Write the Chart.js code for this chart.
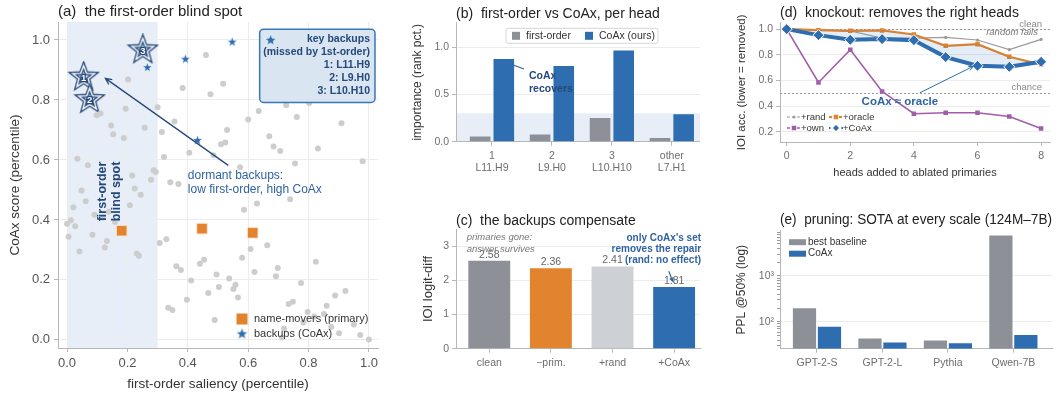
<!DOCTYPE html>
<html lang="en">
<head>
<meta charset="utf-8">
<title>CoAx backups</title>
<script src="https://cdn.jsdelivr.net/npm/chart.js@4/dist/chart.umd.min.js"></script>
<style>
  html, body { margin: 0; padding: 0; background: #fff; }
  body { position: relative; width: 1058px; height: 396px; overflow: hidden; }
  canvas { position: absolute; }
</style>
</head>
<body>
<canvas id="chartA" width="392" height="396" style="left:0;top:0"></canvas>
<canvas id="chartB" width="300" height="190" style="left:400px;top:0"></canvas>
<canvas id="chartC" width="310" height="198" style="left:400px;top:198px"></canvas>
<canvas id="chartD" width="358" height="190" style="left:700px;top:0"></canvas>
<canvas id="chartE" width="358" height="198" style="left:700px;top:198px"></canvas>
<script>
// ---- (a) every head: first-order saliency vs CoAx score (percentiles)
const headX = [0.46, 0.202, 0.383, 0.517, 0.475, 0.30, 0.194, 0.098, 0.111, 0.356,
  0.146, 0.257, 0.53, 0.153, 0.314, 0.188, 0.524, 0.51, 0.405, 0.321,
  0.034, 0.069, 0.573, 0.287, 0.294, 0.216, 0.278, 0.342, 0.369, 0.048,
  0.224, 0.244, 0.60, 0.635, 0.726, 0.802, 0.761, 0.909, 0.67, 0.684,
  0.706, 0.831, 0.755, 0.979, 0.739, 0.062, 0.021, 0.208, 0.138, 0.091,
  0.118, 0.159, 0.013, 0.0, 0.027, 0.005, 0.084, 0.132, 0.125, 0.041,
  0.231, 0.238, 0.307, 0.329, 0.586, 0.629, 0.608, 0.663, 0.58, 0.454,
  0.44, 0.362, 0.377, 0.698, 0.621, 0.824, 0.495, 0.537, 0.692, 0.411,
  0.503, 0.558, 0.551, 0.775, 0.468, 0.566, 0.397, 0.922, 0.888, 0.748,
  0.734, 0.86, 0.335, 0.349, 0.797, 0.851, 0.819, 0.783, 0.489, 0.875,
  0.95, 0.719, 0.901, 0.712, 0.971, 1.0, 0.485]
const headY = [0.95, 0.868, 0.84, 0.854, 0.819, 0.776, 0.771, 0.749, 0.755, 0.728,
  0.715, 0.707, 0.70, 0.686, 0.693, 0.673, 0.658, 0.652, 0.624, 0.61,
  0.604, 0.582, 0.576, 0.566, 0.56, 0.548, 0.534, 0.526, 0.52, 0.498,
  0.505, 0.484, 0.735, 0.763, 0.782, 0.79, 0.743, 0.722, 0.679, 0.645,
  0.63, 0.638, 0.588, 0.596, 0.469, 0.462, 0.442, 0.449, 0.427, 0.417,
  0.407, 0.393, 0.399, 0.387, 0.379, 0.344, 0.351, 0.33, 0.308, 0.295,
  0.288, 0.281, 0.323, 0.336, 0.434, 0.455, 0.303, 0.316, 0.274, 0.267,
  0.254, 0.246, 0.233, 0.24, 0.226, 0.261, 0.218, 0.205, 0.212, 0.198,
  0.176, 0.184, 0.17, 0.19, 0.156, 0.141, 0.134, 0.163, 0.148, 0.127,
  0.12, 0.114, 0.107, 0.10, 0.093, 0.086, 0.078, 0.058, 0.066, 0.043,
  0.051, 0.037, 0.022, 0.008, 0.016, 0.001, 0.616]
const primaryX = [0.181, 0.447, 0.615]
const primaryY = [0.364, 0.371, 0.357]
const backupX = [0.266, 0.392, 0.547, 0.432]
const backupY = [0.908, 0.936, 0.993, 0.665]
const keyIds = ['1', '2', '3']
const keyNames = ['L11.H9', 'L9.H0', 'L10.H10']
const keyX = [0.055, 0.075, 0.251]
const keyY = [0.876, 0.801, 0.967]
const blindSpot = [0, 0.3]
const unitTicks = [0, 0.2, 0.4, 0.6, 0.8, 1.0]

// ---- (b) rank percentile per head
const headIds = ['1', '2', '3', 'other']
const headNames = ['L11.H9', 'L9.H0', 'L10.H10', 'L7.H1']
const firstOrderRank = [0.055, 0.075, 0.251, 0.04]
const coaxRank = [0.876, 0.801, 0.967, 0.29]
const rankTicks = [0, 0.5, 1.0]

// ---- (c) IOI logit-diff after ablation
const compLabels = ['clean', '\u2212prim.', '+rand', '+CoAx']
const compValues = [2.58, 2.36, 2.41, 1.81]
const logitTicks = [0, 1, 2, 3]

// ---- (d) knockout curves
const knockSteps = [0, 1, 2, 3, 4, 5, 6, 7, 8]
const randAcc = [1.0, 0.995, 0.985, 0.93, 0.93, 0.935, 0.915, 0.84, 0.92]
const oracleAcc = [1.0, 0.992, 0.987, 0.99, 0.958, 0.87, 0.883, 0.784, 0.724]
const ownAcc = [1.0, 0.584, 0.839, 0.514, 0.34, 0.348, 0.348, 0.319, 0.225]
const coaxAcc = [1.0, 0.953, 0.917, 0.922, 0.914, 0.782, 0.714, 0.706, 0.745]
const stepTicks = [0, 2, 4, 6, 8]
const accTicks = [0.2, 0.4, 0.6, 0.8, 1.0]

// ---- (e) perplexity at 50% pruning
const pruneModels = ['GPT-2-S', 'GPT-2-L', 'Pythia', 'Qwen-7B']
const baselinePpl = [198, 43.5, 39, 7670]
const coaxPpl = [78, 35.5, 34, 52]
const pplTicks = [30, 40, 50, 60, 70, 80, 90, 100, 200, 300, 400, 500, 600, 700, 800, 900,
  1000, 2000, 3000, 4000, 5000, 6000, 7000, 8000, 9000]
const pplLabels = { 100: '10\u00b2', 1000: '10\u00b3' }

const FONT = "'Liberation Sans', Arial, Helvetica, sans-serif"
const BLUE = '#2e6db0'
const NAVY = '#26497a'
const TEXTBLUE = '#2f63a3'
const ORANGE = '#e2832d'
const GRAY = '#8d9197'
const LIGHTGRAY = '#cdd1d5'
const PURPLE = '#a15daa'
const BAND = '#e7eef7'
const GRID = '#ececec'
const SPINE = '#b4b8be'
const TICK = '#6e6e6e'

Chart.defaults.font.family = FONT
Chart.defaults.animation = false
Chart.defaults.plugins.legend.display = false
Chart.defaults.plugins.tooltip.enabled = false

const pts = (xs, ys) => xs.map((x, i) => ({ x, y: ys[i] }))

function makeAxis(o) {
  return {
    type: o.type || 'linear',
    min: o.min,
    max: o.max,
    offset: false,
    afterBuildTicks: (s) => { s.ticks = o.ticks.map((v) => ({ value: v })) },
    afterFit: (s) => {
      if (o.width != null) s.width = o.width
      if (o.height != null) s.height = o.height
    },
    ticks: {
      callback: o.fmt,
      font: { size: o.size || 10.5 },
      color: o.color || TICK,
      padding: o.pad != null ? o.pad : 3,
      autoSkip: false,
      maxRotation: 0,
    },
    grid: {
      offset: false,
      drawOnChartArea: o.grid !== false,
      color: o.gridColor || GRID,
      tickColor: SPINE,
      tickLength: o.tickLen != null ? o.tickLen : 4,
    },
    border: { color: SPINE },
    title: o.title
      ? { display: true, text: o.title, color: '#333', font: { size: o.titleSize || 12 }, padding: o.titlePad }
      : { display: false },
  }
}

function panelTitle(text, size, top, bottom) {
  return { display: true, text, align: 'start', fullSize: false, color: '#222', font: { size, weight: 'normal' }, padding: { top, bottom } }
}

function label(ctx, str, x, y, o = {}) {
  ctx.save()
  ctx.font = (o.italic ? 'italic ' : '') + (o.bold ? 'bold ' : '') + (o.size || 11) + 'px ' + FONT
  ctx.fillStyle = o.color || '#333'
  ctx.textAlign = o.align || 'left'
  ctx.textBaseline = 'middle'
  if (o.rotate) { ctx.translate(x, y); ctx.rotate(o.rotate); x = 0; y = 0 }
  ctx.fillText(str, x, y)
  ctx.restore()
}

function arrow(ctx, x1, y1, x2, y2, color, lw, head) {
  const a = Math.atan2(y2 - y1, x2 - x1)
  ctx.save()
  ctx.strokeStyle = color
  ctx.lineWidth = lw
  ctx.beginPath()
  ctx.moveTo(x1, y1)
  ctx.lineTo(x2, y2)
  ctx.moveTo(x2 - head * Math.cos(a - 0.45), y2 - head * Math.sin(a - 0.45))
  ctx.lineTo(x2, y2)
  ctx.lineTo(x2 - head * Math.cos(a + 0.45), y2 - head * Math.sin(a + 0.45))
  ctx.stroke()
  ctx.restore()
}

function starPath(g, cx, cy, r) {
  g.beginPath()
  for (let k = 0; k < 10; k++) {
    const a = -Math.PI / 2 + (k * Math.PI) / 5
    const rr = k % 2 ? r * 0.42 : r
    g.lineTo(cx + rr * Math.cos(a), cy + rr * Math.sin(a))
  }
  g.closePath()
}

// filled blue star used for the backup heads
function smallStar(r) {
  const s = Math.ceil(2 * r + 4)
  const c = document.createElement('canvas')
  c.width = c.height = s
  const g = c.getContext('2d')
  starPath(g, s / 2, s / 2, r)
  g.fillStyle = BLUE
  g.fill()
  g.strokeStyle = '#fff'
  g.lineWidth = 0.8
  g.stroke()
  return c
}

// outlined star for the three key backups
function keyStar(r) {
  const s = Math.ceil(2 * r + 10)
  const c = document.createElement('canvas')
  c.width = c.height = s
  const g = c.getContext('2d')
  g.lineJoin = 'miter'
  g.miterLimit = 10
  starPath(g, s / 2, s / 2, r)
  g.fillStyle = '#d9e4f1'
  g.fill()
  g.strokeStyle = NAVY
  g.lineWidth = 4
  g.stroke()
  g.strokeStyle = '#fff'
  g.lineWidth = 1.4
  g.stroke()
  return c
}

const starSmall = smallStar(5.5)
const starLegend = smallStar(6.5)
const starKey = keyStar(11.5)

// ---------------- (a) ----------------
const panelA = {
  id: 'panelA',
  beforeDraw(chart) {
    const { ctx, chartArea: a, scales: { x } } = chart
    const x0 = x.getPixelForValue(blindSpot[0])
    const x1 = x.getPixelForValue(blindSpot[1])
    ctx.save()
    ctx.fillStyle = BAND
    ctx.fillRect(x0, a.top, x1 - x0, a.bottom - a.top)
    ctx.restore()
  },
  afterDatasetsDraw(chart) {
    const { ctx, chartArea: a, scales: { x, y } } = chart
    const px = (v) => x.getPixelForValue(v)
    const py = (v) => y.getPixelForValue(v)

    // numbers inside the key stars
    chart.getDatasetMeta(3).data.forEach((el, i) => {
      ctx.save()
      ctx.font = 'bold 9.5px ' + FONT
      ctx.textAlign = 'center'
      ctx.textBaseline = 'middle'
      ctx.strokeStyle = NAVY
      ctx.lineWidth = 2.5
      ctx.strokeText(keyIds[i], el.x, el.y + 1)
      ctx.fillStyle = '#fff'
      ctx.fillText(keyIds[i], el.x, el.y + 1)
      ctx.restore()
    })

    arrow(ctx, px(0.534), py(0.582), px(0.127), py(0.872), NAVY, 1.3, 7)
    label(ctx, 'dormant backups:', px(0.40), py(0.549), { size: 12, color: TEXTBLUE })
    label(ctx, 'low first-order, high CoAx', px(0.40), py(0.50), { size: 12, color: TEXTBLUE })

    const cx = px(0.14), cy = py(0.495)
    label(ctx, 'first-order', cx - 7, cy, { size: 12.5, bold: true, color: NAVY, align: 'center', rotate: -Math.PI / 2 })
    label(ctx, 'blind spot', cx + 7, cy, { size: 12.5, bold: true, color: NAVY, align: 'center', rotate: -Math.PI / 2 })

    // key backups box
    const bl = px(0.638), br = px(1.02), bt = py(1.036), bb = py(0.792)
    ctx.save()
    ctx.beginPath()
    ctx.roundRect(bl, bt, br - bl, bb - bt, 4)
    ctx.fillStyle = '#dae5f2'
    ctx.fill()
    ctx.strokeStyle = '#3b76b9'
    ctx.lineWidth = 1.5
    ctx.stroke()
    ctx.restore()
    Chart.helpers.drawPoint(ctx, { pointStyle: starLegend, radius: 6 }, bl + 11, bt + 11)
    const boxLines = ['key backups', '(missed by 1st-order)'].concat(keyIds.map((k, i) => k + ': ' + keyNames[i]))
    boxLines.forEach((t, i) => label(ctx, t, br - 5, bt + 9.5 + i * 13.2, { size: 10.5, bold: true, color: NAVY, align: 'right' }))

    // legend
    const lx = a.right - 136
    ctx.save()
    ctx.fillStyle = ORANGE
    ctx.fillRect(lx - 5.5, a.bottom - 34.5, 11, 11)
    ctx.restore()
    Chart.helpers.drawPoint(ctx, { pointStyle: starLegend, radius: 6 }, lx, a.bottom - 14)
    label(ctx, 'name-movers (primary)', lx + 12, a.bottom - 29, { size: 11, color: '#333' })
    label(ctx, 'backups (CoAx)', lx + 12, a.bottom - 14, { size: 11, color: '#333' })
  },
}

new Chart(document.getElementById('chartA'), {
  type: 'scatter',
  data: {
    datasets: [
      { data: pts(headX, headY), pointRadius: 3, backgroundColor: '#cdcdcd', borderWidth: 0 },
      { data: pts(primaryX, primaryY), pointStyle: 'rect', pointRadius: 7.4, backgroundColor: ORANGE, borderColor: '#fbe3cc', borderWidth: 0.8 },
      { data: pts(backupX, backupY), pointStyle: starSmall, pointRadius: 6 },
      { data: pts(keyX, keyY), pointStyle: starKey, pointRadius: 13 },
    ],
  },
  options: {
    responsive: false,
    layout: { padding: { left: 0, right: 9, top: 0, bottom: 0 } },
    plugins: { title: panelTitle('(a)  the first-order blind spot', 15, 2.7, 1.3) },
    scales: {
      x: makeAxis({ min: -0.03, max: 1.03, ticks: unitTicks, fmt: (v) => v.toFixed(1), size: 13, color: '#555', pad: 4, height: 48,
        title: 'first-order saliency (percentile)', titleSize: 13.5, titlePad: { top: 0, bottom: 4 } }),
      y: makeAxis({ min: -0.027, max: 1.06, ticks: unitTicks, fmt: (v) => v.toFixed(1), size: 13, color: '#555', pad: 4, width: 58,
        title: 'CoAx score (percentile)', titleSize: 13.5, titlePad: { top: 7, bottom: 0 } }),
    },
  },
  plugins: [panelA],
})

// ---------------- (b) ----------------
const panelB = {
  id: 'panelB',
  beforeDraw(chart) {
    const { ctx, chartArea: a, scales: { y } } = chart
    ctx.save()
    ctx.fillStyle = BAND
    ctx.fillRect(a.left, y.getPixelForValue(0.3), a.right - a.left, y.getPixelForValue(0) - y.getPixelForValue(0.3))
    ctx.restore()
  },
  afterDatasetsDraw(chart) {
    const { ctx, chartArea: a, scales: { x, y } } = chart
    // legend box
    ctx.save()
    ctx.beginPath()
    ctx.roundRect(a.left + 50, a.top + 5.5, 152, 15, 2)
    ctx.fillStyle = 'rgba(255,255,255,0.9)'
    ctx.fill()
    ctx.strokeStyle = '#d6d6d6'
    ctx.lineWidth = 1
    ctx.stroke()
    ctx.fillStyle = GRAY
    ctx.fillRect(a.left + 56, a.top + 9, 8, 8)
    ctx.fillStyle = BLUE
    ctx.fillRect(a.left + 129, a.top + 9, 8, 8)
    ctx.restore()
    label(ctx, 'first-order', a.left + 70, a.top + 13, { size: 10.5, color: '#333' })
    label(ctx, 'CoAx (ours)', a.left + 143, a.top + 13, { size: 10.5, color: '#333' })

    ctx.save()
    ctx.strokeStyle = TEXTBLUE
    ctx.lineWidth = 1.2
    ctx.beginPath()
    ctx.moveTo(x.getPixelForValue(0.367), y.getPixelForValue(0.81))
    ctx.lineTo(x.getPixelForValue(0.534), y.getPixelForValue(0.77))
    ctx.stroke()
    ctx.restore()
    label(ctx, 'CoAx', x.getPixelForValue(0.618), y.getPixelForValue(0.69), { size: 10.5, bold: true, color: NAVY })
    label(ctx, 'recovers', x.getPixelForValue(0.618), y.getPixelForValue(0.56), { size: 10.5, bold: true, color: NAVY })
  },
}

new Chart(document.getElementById('chartB'), {
  type: 'bar',
  data: {
    datasets: [
      { data: pts([0, 1, 2, 3], firstOrderRank), backgroundColor: GRAY, categoryPercentage: 0.79, barPercentage: 0.87 },
      { data: pts([0, 1, 2, 3], coaxRank), backgroundColor: BLUE, categoryPercentage: 0.79, barPercentage: 0.87 },
    ],
  },
  options: {
    responsive: false,
    layout: { padding: { left: 0, right: 0, top: 0, bottom: 0 } },
    plugins: { title: panelTitle('(b)  first-order vs CoAx, per head', 14, 5.5, 0.5) },
    scales: {
      x: makeAxis({ min: -0.6, max: 3.47, ticks: [0, 1, 2, 3], fmt: (v) => [headIds[v], headNames[v]], grid: false, pad: 4, height: 48.3 }),
      y: makeAxis({ min: 0, max: 1.26, ticks: rankTicks, fmt: (v) => v.toFixed(1), width: 56,
        title: 'importance (rank pct.)', titleSize: 12, titlePad: { top: 10.8, bottom: 0 } }),
    },
  },
  plugins: [panelB],
})

// ---------------- (c) ----------------
const panelC = {
  id: 'panelC',
  afterDatasetsDraw(chart) {
    const { ctx, scales: { x, y } } = chart
    chart.getDatasetMeta(0).data.forEach((bar, i) => {
      label(ctx, compValues[i].toFixed(2), bar.x, bar.y - 6, { size: 10.5, color: '#666', align: 'center' })
    })
    label(ctx, 'primaries gone:', x.getPixelForValue(-0.366), y.getPixelForValue(3.25), { size: 9.5, italic: true, color: '#777' })
    label(ctx, 'answer survives', x.getPixelForValue(-0.366), y.getPixelForValue(2.92), { size: 9.5, italic: true, color: '#777' })
    const note = ["only CoAx's set", 'removes the repair', '(rand: no effect)']
    note.forEach((t, i) => label(ctx, t, x.getPixelForValue(3.437), y.getPixelForValue(3.25 - i * 0.322), { size: 10, bold: true, color: TEXTBLUE, align: 'right' }))
    arrow(ctx, x.getPixelForValue(2.913), y.getPixelForValue(2.27), x.getPixelForValue(2.978), y.getPixelForValue(1.98), TEXTBLUE, 1.2, 4)
  },
}

new Chart(document.getElementById('chartC'), {
  type: 'bar',
  data: {
    datasets: [
      { data: pts([0, 1, 2, 3], compValues), backgroundColor: [GRAY, ORANGE, LIGHTGRAY, BLUE], categoryPercentage: 1, barPercentage: 0.68 },
    ],
  },
  options: {
    responsive: false,
    layout: { padding: { left: 0, right: 10, top: 0, bottom: 0 } },
    plugins: { title: panelTitle('(c)  the backups compensate', 14, 14.3, 0.2) },
    scales: {
      x: makeAxis({ min: -0.54, max: 3.42, ticks: [0, 1, 2, 3], fmt: (v) => compLabels[v], grid: false, pad: 4, height: 47.3 }),
      y: makeAxis({ min: 0, max: 3.5, ticks: logitTicks, fmt: (v) => String(v), width: 56,
        title: 'IOI logit-diff', titleSize: 13, titlePad: { top: 20.5, bottom: 0 } }),
    },
  },
  plugins: [panelC],
})

// ---------------- (d) ----------------
const knockStyles = [
  { text: '+rand', color: '#9b9b9b', lw: 1.2, point: 'circle', r: 1.6 },
  { text: '+oracle', color: ORANGE, lw: 2.2, point: 'rect', r: 3.2 },
  { text: '+own', color: PURPLE, lw: 1.6, point: 'rect', r: 3.2 },
  { text: '+CoAx', color: BLUE, lw: 3, point: 'rectRot', r: 4.5 },
]

const panelD = {
  id: 'panelD',
  beforeDatasetsDraw(chart) {
    const { ctx, chartArea: a, scales: { y } } = chart
    ctx.save()
    ctx.strokeStyle = '#9a9a9a'
    ctx.lineWidth = 1
    ctx.setLineDash([2, 2])
    ;[1.0, 0.5].forEach((v) => {
      const yy = Math.round(y.getPixelForValue(v)) + 0.5
      ctx.beginPath()
      ctx.moveTo(a.left, yy)
      ctx.lineTo(a.right, yy)
      ctx.stroke()
    })
    ctx.restore()
  },
  afterDatasetsDraw(chart) {
    const { ctx, chartArea: a, scales: { x, y } } = chart
    label(ctx, 'clean', x.getPixelForValue(8.03), y.getPixelForValue(1.039), { size: 9.5, color: '#888', align: 'right' })
    label(ctx, 'chance', x.getPixelForValue(8.03), y.getPixelForValue(0.542), { size: 9.5, color: '#888', align: 'right' })
    label(ctx, 'random fails', x.getPixelForValue(7.9), y.getPixelForValue(0.971), { size: 9.5, italic: true, color: '#777', align: 'right' })
    label(ctx, 'CoAx \u2248 oracle', x.getPixelForValue(3.56), y.getPixelForValue(0.433), { size: 11.5, bold: true, color: TEXTBLUE, align: 'center' })
    arrow(ctx, x.getPixelForValue(4.19), y.getPixelForValue(0.504), x.getPixelForValue(5.86), y.getPixelForValue(0.709), BLUE, 1, 5)

    // two-column legend, bottom left
    knockStyles.forEach((s, i) => {
      const col = i % 2, row = Math.floor(i / 2)
      const x0 = a.left + 7 + col * 42
      const yy = a.bottom - 25 + row * 11
      ctx.save()
      ctx.strokeStyle = s.color
      ctx.fillStyle = s.color
      ctx.lineWidth = Math.min(s.lw, 2)
      ctx.setLineDash(i === 3 ? [] : [3, 2])
      ctx.beginPath()
      ctx.moveTo(x0, yy)
      ctx.lineTo(x0 + 14, yy)
      ctx.stroke()
      ctx.setLineDash([])
      if (i === 3) ctx.strokeStyle = '#fff'
      Chart.helpers.drawPoint(ctx, { pointStyle: s.point, radius: s.r, borderWidth: i === 3 ? 1 : 0 }, x0 + 7, yy)
      ctx.restore()
      label(ctx, s.text, x0 + 14, yy, { size: 9.5, color: '#333' })
    })
  },
}

new Chart(document.getElementById('chartD'), {
  type: 'line',
  data: {
    datasets: [
      { data: pts(knockSteps, randAcc), borderColor: '#9b9b9b', backgroundColor: '#9b9b9b', borderWidth: 1.2, pointRadius: 1.6, pointBorderWidth: 0, order: 3 },
      { data: pts(knockSteps, oracleAcc), borderColor: ORANGE, backgroundColor: ORANGE, borderWidth: 2.2, pointStyle: 'rect', pointRadius: 3.2, pointBorderWidth: 0, order: 2 },
      { data: pts(knockSteps, ownAcc), borderColor: PURPLE, backgroundColor: PURPLE, borderWidth: 1.6, pointStyle: 'rect', pointRadius: 3.2, pointBorderWidth: 0, order: 1 },
      { data: pts(knockSteps, coaxAcc), borderColor: BLUE, backgroundColor: 'rgba(46,109,176,0.13)', borderWidth: 4, pointStyle: 'rectRot', pointRadius: 5.5,
        pointBackgroundColor: BLUE, pointBorderColor: '#fff', pointBorderWidth: 1, fill: 1, order: 0 },
    ],
  },
  options: {
    responsive: false,
    layout: { padding: { left: 0, right: 8, top: 0, bottom: 0 } },
    plugins: { title: panelTitle('(d)  knockout: removes the right heads', 14, 4.9, 1.0) },
    scales: {
      x: makeAxis({ min: -0.21, max: 8.28, ticks: stepTicks, fmt: (v) => String(v), grid: false, pad: 4, height: 48,
        title: 'heads added to ablated primaries', titleSize: 11, titlePad: { top: 0, bottom: 10.1 } }),
      y: makeAxis({ min: 0.12, max: 1.05, ticks: accTicks, fmt: (v) => v.toFixed(1), width: 80,
        title: 'IOI acc. (lower = removed)', titleSize: 11.5, titlePad: { top: 34.8, bottom: 0 } }),
    },
  },
  plugins: [panelD],
})

// ---------------- (e) ----------------
const panelE = {
  id: 'panelE',
  afterDatasetsDraw(chart) {
    const { ctx, chartArea: a } = chart
    ctx.save()
    ctx.fillStyle = GRAY
    ctx.fillRect(a.left + 9, a.top + 8.5, 17, 6)
    ctx.fillStyle = BLUE
    ctx.fillRect(a.left + 9, a.top + 20, 17, 6)
    ctx.restore()
    label(ctx, 'best baseline', a.left + 28, a.top + 11.5, { size: 10, color: '#333' })
    label(ctx, 'CoAx', a.left + 28, a.top + 23, { size: 10, color: '#333' })
  },
}

const pplAxis = makeAxis({ type: 'logarithmic', min: 26, max: 9700, ticks: pplTicks, fmt: (v) => pplLabels[v] || '', width: 80,
  title: 'PPL @50% (log)', titleSize: 12, titlePad: { top: 34.5, bottom: 0 }, tickLen: 3 })
pplAxis.grid.color = (c) => (c.tick && pplLabels[c.tick.value] ? GRID : 'rgba(0,0,0,0)')
pplAxis.grid.tickColor = '#9a9a9a'

new Chart(document.getElementById('chartE'), {
  type: 'bar',
  data: {
    datasets: [
      { data: pts([0, 1, 2, 3], baselinePpl), backgroundColor: GRAY, categoryPercentage: 0.763, barPercentage: 0.93 },
      { data: pts([0, 1, 2, 3], coaxPpl), backgroundColor: BLUE, categoryPercentage: 0.763, barPercentage: 0.93 },
    ],
  },
  options: {
    responsive: false,
    layout: { padding: { left: 0, right: 6, top: 0, bottom: 0 } },
    plugins: { title: panelTitle('(e)  pruning: SOTA at every scale (124M\u20137B)', 14, 13.6, 2.3) },
    scales: {
      x: makeAxis({ min: -0.565, max: 3.59, ticks: [0, 1, 2, 3], fmt: (v) => pruneModels[v], grid: false, pad: 4, height: 47.3 }),
      y: pplAxis,
    },
  },
  plugins: [panelE],
})
</script>
</body>
</html>
